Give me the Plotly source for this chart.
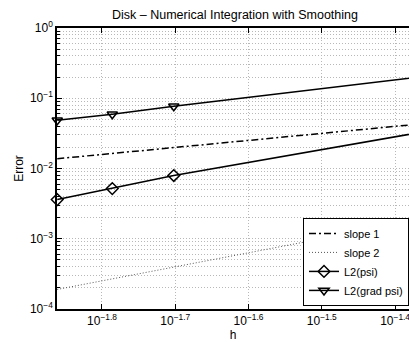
import plotly.graph_objects as go

# data
h = [0.01377, 0.01637, 0.01986, 0.0501]
slope1 = [0.01377, 0.01637, 0.01986, 0.0501]
slope2 = [0.000190, 0.000268, 0.000394, 0.00251]
l2_psi = [0.00361, 0.00518, 0.00794, 0.0430]
l2_grad_psi = [0.0485, 0.0591, 0.0769, 0.243]

x_tick_exps = ["−1.8", "−1.7", "−1.6", "−1.5", "−1.4"]
x_tick_vals = [10 ** -1.8, 10 ** -1.7, 10 ** -1.6, 10 ** -1.5, 10 ** -1.4]
y_tick_exps = ["−4", "−3", "−2", "−1", "0"]
y_tick_vals = [1e-4, 1e-3, 1e-2, 1e-1, 1]

y_minor = [m * 10 ** e for e in (-4, -3, -2, -1) for m in range(2, 10)]

FONT = "Liberation Sans, Arial, Helvetica, sans-serif"
GRID = "#b8b8b8"
GRIDDASH = "1px,2px"

fig = go.Figure()
fig.add_trace(go.Scatter(x=h, y=slope1, name="slope 1", mode="lines", cliponaxis=False,
                         line=dict(color="black", width=1.5, dash="7px,3px,2px,3px")))
fig.add_trace(go.Scatter(x=h, y=slope2, name="slope 2", mode="lines", cliponaxis=False,
                         line=dict(color="#555555", width=1, dash="1px,2px")))
fig.add_trace(go.Scatter(x=h, y=l2_psi, name="L2(psi)", mode="lines+markers",
                         cliponaxis=False,
                         line=dict(color="black", width=1.5),
                         marker=dict(symbol="diamond-open", size=9, color="black",
                                     line=dict(width=1.5, color="black"))))
fig.add_trace(go.Scatter(x=h, y=l2_grad_psi, name="L2(grad psi)", mode="lines+markers",
                         cliponaxis=False,
                         line=dict(color="black", width=1.5),
                         marker=dict(symbol="triangle-down-open", size=9, color="black",
                                     line=dict(width=1.5, color="black"))))

fig.update_layout(
    width=409, height=342,
    margin=dict(l=57, r=0, t=28, b=33),
    paper_bgcolor="white", plot_bgcolor="white",
    font=dict(family=FONT, size=12, color="black"),
    title=dict(text="Disk – Numerical Integration with Smoothing",
               x=235 / 409, xanchor="center", y=1 - 15 / 342, yanchor="middle",
               font=dict(size=12.5)),
    showlegend=True,
    legend=dict(x=1, xanchor="right", y=0.011, yanchor="bottom",
                bgcolor="white", bordercolor="black", borderwidth=1,
                font=dict(size=11), tracegroupgap=0, itemwidth=30),
    xaxis=dict(type="log", range=[-1.8614, -1.381],
               tickvals=x_tick_vals,
               ticktext=["10<sup>%s</sup>" % e for e in x_tick_exps],
               ticklabeloverflow="allow",
               ticks="inside", ticklen=5, tickcolor="black",
               showline=True, linecolor="black", linewidth=1.5, mirror="allticks",
               showgrid=True, gridcolor=GRID, griddash=GRIDDASH, gridwidth=1,
               zeroline=False,
               title=dict(text="h", standoff=4, font=dict(size=12))),
    yaxis=dict(type="log", range=[-4, 0],
               tickvals=y_tick_vals,
               ticktext=["10<sup>%s</sup>" % e for e in y_tick_exps],
               ticks="inside", ticklen=5, tickcolor="black",
               showline=True, linecolor="black", linewidth=1.5, mirror=False,
               showgrid=True, gridcolor=GRID, griddash=GRIDDASH, gridwidth=1,
               minor=dict(tickmode="array", tickvals=y_minor, ticks="inside",
                          ticklen=3, tickcolor="black", showgrid=True,
                          gridcolor=GRID, griddash=GRIDDASH, gridwidth=1),
               zeroline=False,
               title=dict(text="Error", standoff=4, font=dict(size=12))),
)

fig.write_html("out.html")
